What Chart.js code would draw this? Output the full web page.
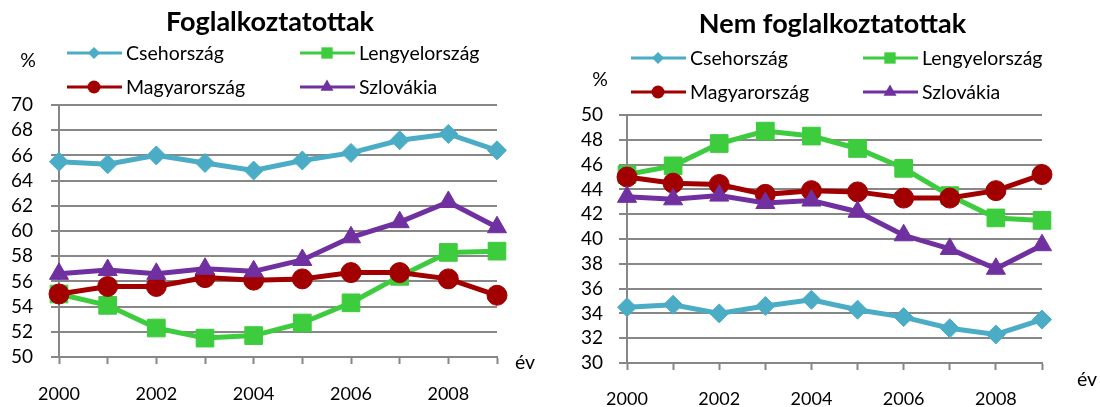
<!DOCTYPE html>
<html>
<head>
<meta charset="utf-8">
<script src="https://cdn.jsdelivr.net/npm/chart.js@4/dist/chart.umd.min.js"></script>
<style>
  body { margin: 0; background: #fff; }
  .wrap { display: flex; width: 1100px; height: 407px; }
  canvas { display: block; }
</style>
</head>
<body>
<div class="wrap">
  <canvas id="emp" width="550" height="407"></canvas>
  <canvas id="unemp" width="550" height="407"></canvas>
</div>
<script>
const years = ['2000', '2001', '2002', '2003', '2004', '2005', '2006', '2007', '2008', '2009'];
const countries = ['Csehország', 'Lengyelország', 'Magyarország', 'Szlovákia'];

// Foglalkoztatottak (%)
const empCz = [65.5, 65.3, 66.0, 65.4, 64.8, 65.6, 66.2, 67.2, 67.7, 66.4];
const empPl = [55.0, 54.1, 52.3, 51.5, 51.7, 52.7, 54.3, 56.4, 58.3, 58.4];
const empHu = [55.0, 55.6, 55.6, 56.3, 56.1, 56.2, 56.7, 56.7, 56.2, 54.9];
const empSk = [56.6, 56.9, 56.6, 57.0, 56.8, 57.7, 59.5, 60.7, 62.3, 60.3];

// Nem foglalkoztatottak (%)
const unempCz = [34.5, 34.7, 34.0, 34.6, 35.1, 34.3, 33.7, 32.8, 32.3, 33.5];
const unempPl = [45.2, 45.9, 47.7, 48.7, 48.3, 47.3, 45.7, 43.5, 41.7, 41.5];
const unempHu = [45.0, 44.5, 44.4, 43.6, 43.9, 43.8, 43.3, 43.3, 43.9, 45.2];
const unempSk = [43.4, 43.2, 43.5, 42.9, 43.1, 42.2, 40.3, 39.2, 37.6, 39.5];

const colors = ['#4bacc6', '#3dcc3d', '#a20000', '#7030a0'];
const styles = ['rectRot', 'rect', 'circle', 'triangle'];
const radii = [9.5, 12.5, 10, 11];
const legendRadii = [6, 8, 6.5, 7.5];
const gridColor = '#878787';
const FONT = 'Lato, "Open Sans", sans-serif';

// draws the 2x2 legend, the "%" and the "év" labels
const extraText = {
    id: 'extraText',
    afterDraw(chart, args, opts) {
        const c = chart.ctx;
        c.save();
        c.font = '19.5px ' + FONT;
        c.fillStyle = '#000';
        c.textAlign = 'center';
        c.textBaseline = 'middle';
        c.fillText('%', opts.pct[0], opts.pct[1]);
        c.fillText('év', opts.ev[0], opts.ev[1]);
        c.textAlign = 'left';
        chart.data.datasets.forEach((ds, i) => {
            const x = opts.cols[i % 2];
            const y = opts.rows[Math.floor(i / 2)];
            c.strokeStyle = ds.borderColor;
            c.lineWidth = 3;
            c.beginPath();
            c.moveTo(x, y);
            c.lineTo(x + 55, y);
            c.stroke();
            c.fillStyle = ds.borderColor;
            Chart.helpers.drawPoint(c, { pointStyle: ds.pointStyle, radius: legendRadii[i], borderWidth: 0, rotation: 0 }, x + 27, y);
            c.fillStyle = '#000';
            c.fillText(ds.label, x + 59, y + 1);
        });
        c.restore();
    }
};

function makeDatasets(series) {
    return series.map((vals, i) => ({
        label: countries[i],
        data: vals,
        yAxisID: 'y',
        borderColor: colors[i],
        backgroundColor: colors[i],
        borderWidth: 5,
        pointStyle: styles[i],
        pointRadius: radii[i],
        pointHoverRadius: radii[i],
        pointBorderWidth: 1,
        tension: 0,
        order: 4 - i
    }));
}

function createChart(id, title, series, yMin, yMax, lay) {
    const ctx = document.getElementById(id).getContext('2d');
    return new Chart(ctx, {
        type: 'line',
        data: { labels: years, datasets: makeDatasets(series) },
        plugins: [extraText],
        options: {
            responsive: false,
            devicePixelRatio: 1,
            animation: false,
            layout: { padding: { left: lay.left, right: lay.right, top: 0, bottom: 0 } },
            plugins: {
                legend: { display: false },
                tooltip: { enabled: false },
                title: {
                    display: true,
                    text: title,
                    color: '#000',
                    font: { family: FONT, size: 27, weight: 'bold', lineHeight: 1.2 },
                    padding: { top: lay.titleTop, bottom: lay.titleBottom }
                },
                extraText: lay.extra
            },
            scales: {
                x: {
                    offset: false,
                    afterFit: s => { s.height = lay.xHeight; },
                    grid: { drawOnChartArea: false, drawTicks: true, tickLength: 7, tickColor: gridColor, tickWidth: 2 },
                    border: { color: gridColor, width: 2 },
                    ticks: {
                        autoSkip: false,
                        maxRotation: 0,
                        padding: lay.xPad,
                        color: '#000',
                        font: { family: FONT, size: 18 },
                        callback: (v, i) => (i % 2 === 0 ? years[i] : '')
                    }
                },
                y: {
                    min: yMin,
                    max: yMax,
                    afterFit: s => { s.width = lay.yWidth; },
                    grid: { color: gridColor, lineWidth: 2, tickLength: 8, tickColor: gridColor },
                    border: { color: gridColor, width: 2 },
                    ticks: {
                        stepSize: 2,
                        autoSkip: false,
                        padding: lay.yPad,
                        color: '#000',
                        font: { family: FONT, size: 19 }
                    }
                },
                // empty space on the right for the "év" label
                yRight: {
                    position: 'right',
                    afterFit: s => { s.width = lay.rightGap; },
                    grid: { display: false },
                    border: { display: false },
                    ticks: { display: false }
                }
            }
        }
    });
}

createChart('emp', 'Foglalkoztatottak', [empCz, empPl, empHu, empSk], 50, 70, {
    left: 0, right: 10, rightGap: 43, titleTop: 6, titleBottom: 66.6,
    xHeight: 50, xPad: 19, yWidth: 59, yPad: 18,
    extra: { pct: [28, 61], ev: [525, 363], cols: [67, 300], rows: [53, 87] }
});
createChart('unemp', 'Nem foglalkoztatottak', [unempCz, unempPl, unempHu, unempSk], 30, 50, {
    left: 15, right: 0, rightGap: 58, titleTop: 8, titleBottom: 74.6,
    xHeight: 44, xPad: 18.5, yWidth: 62, yPad: 16,
    extra: { pct: [50, 80], ev: [537, 380], cols: [81, 313], rows: [58, 92] }
});
</script>
</body>
</html>
